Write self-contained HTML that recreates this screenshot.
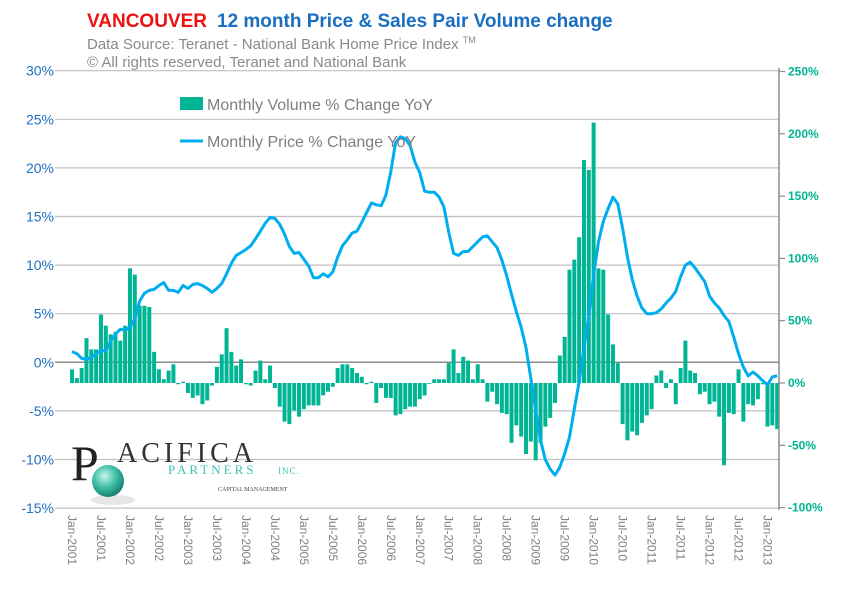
<!DOCTYPE html>
<html><head><meta charset="utf-8">
<style>
body{margin:0;background:#fff;width:850px;height:609px;overflow:hidden;font-family:"Liberation Sans",sans-serif;}
svg{display:block}
</style></head>
<body>
<svg id="chart" width="850" height="609" xmlns="http://www.w3.org/2000/svg" font-family="Liberation Sans, sans-serif">
<text x="87" y="27" font-size="19" font-weight="bold"><tspan fill="#ee1111">VANCOUVER</tspan><tspan fill="#1a6fc0" dx="10">12 month Price &amp; Sales Pair Volume change</tspan></text>
<text x="87" y="49" font-size="15" fill="#8a8a8a">Data Source: Teranet - National Bank Home Price Index <tspan font-size="9" dy="-6">TM</tspan></text>
<text x="87" y="67" font-size="15" fill="#8a8a8a">© All rights reserved, Teranet and National Bank</text>
<g id="grid"></g>
<g id="bars"></g>
<g id="line"></g>
<g id="axes"></g>
<g>
<rect x="180" y="97" width="23" height="13" fill="#00b594"/>
<text x="207" y="110" font-size="16" fill="#7f7f7f">Monthly Volume % Change YoY</text>
<line x1="180" y1="141" x2="203" y2="141" stroke="#00aeef" stroke-width="3"/>
<text x="207" y="147" font-size="16" fill="#7f7f7f">Monthly Price % Change YoY</text>
</g>
<g>
<defs><radialGradient id="ball" cx="0.4" cy="0.35" r="0.7"><stop offset="0" stop-color="#c9f5ea"/><stop offset="0.5" stop-color="#3fc0a8"/><stop offset="1" stop-color="#137766"/></radialGradient></defs>
<ellipse cx="113" cy="500" rx="22" ry="5" fill="#e6e6e6"/>
<circle cx="108" cy="481" r="16" fill="url(#ball)"/>
<text x="71" y="480" font-family="Liberation Serif, serif" font-size="50" fill="#222">P</text>
<text x="117" y="462" font-family="Liberation Serif, serif" font-size="28" fill="#333" letter-spacing="4">ACIFICA</text>
<text x="168" y="474" font-family="Liberation Serif, serif" font-size="13" fill="#3ec4b4" letter-spacing="3">PARTNERS</text>
<text x="278" y="474" font-family="Liberation Serif, serif" font-size="9" fill="#3ec4b4" letter-spacing="1">INC.</text>
<text x="218" y="491" font-family="Liberation Serif, serif" font-size="6" fill="#444">CAPITAL MANAGEMENT</text>
</g>
</svg>
<script>
const volume = [11,4,12,36,27,27,55,46,39,41,34,46,92,87,62,62,61,25,11,3,10,15,-1,1,-8,-12,-10,-17,-14,-2,13,23,44,25,14,19,-1,-2,10,18,3,14,-4,-19,-31,-33,-22,-27,-21,-18,
-18,-18,-10,-7,-3,12,15,15,12,8,5,-1,1,-16,-4,-12,-12,-26,-25,-21,-19,-19,-13,-10,0,3,3,3,16,27,8,21,18,3,15,3,-15,-7,-17,-24,-25,-48,-34,
-43,-57,-47,-62,-48,-35,-28,-16,22,37,91,99,117,179,171,209,92,91,55,31,16,-33,-46,-39,-42,-32,-26,-21,6,10,-4,3,-17,12,34,10,8,-9,-7,-17,-15,-27,-66,-24,-25,11,-31,-17,-18,-13,-1,-35,-34,-37];
const price = [1.1,0.9,0.4,0.3,0.5,0.9,1.2,1.2,2.2,2.9,3.4,3.3,3.6,4.5,6.3,7.1,7.4,7.5,7.9,8.2,7.4,7.4,7.2,7.9,7.6,8.0,8.1,7.9,7.6,7.2,7.6,8.1,9.1,10.2,
11.0,11.3,11.6,12.0,12.7,13.5,14.3,14.9,14.8,14.2,13.2,11.9,11.2,11.3,10.6,9.9,8.7,8.7,9.1,8.8,9.3,10.8,12.0,12.6,13.3,13.5,14.4,15.4,16.4,16.2,16.1,17.2,19.6,22.6,23.2,23.0,22.3,20.6,19.5,17.6,17.5,17.5,17.0,16.0,13.4,11.2,11.0,11.4,11.4,11.9,12.4,12.9,13.0,12.4,11.8,10.5,8.9,7.0,5.2,3.6,1.5,-1.7,-5.0,-8.0,-10.0,-11.0,-11.6,-10.8,-9.4,-7.7,-4.8,-2.0,1.5,4.8,9.0,12.4,14.5,15.8,17.0,16.3,13.8,10.8,8.5,6.8,5.6,5.0,5.0,5.1,5.5,6.1,6.6,7.3,8.8,10.0,10.3,9.7,9.0,8.3,6.8,6.1,5.6,4.8,4.2,2.6,0.9,-0.5,-1.4,-1.0,-1.4,-1.9,-2.3,-1.5,-1.4];
const leftTicks = [30,25,20,15,10,5,0,-5,-10,-15];
const rightTicks = [250,200,150,100,50,0,-50,-100];
const monthNames = ["Jan","Jul"];
const startYear = 2001;

const NS="http://www.w3.org/2000/svg";
const xOf = i => 72 + i*4.83;
const yL = v => 362.3 - v*9.72;
const yR = v => 383 - v*1.246;
function mk(tag, attrs, parent){const e=document.createElementNS(NS,tag);for(const k in attrs)e.setAttribute(k,attrs[k]);parent.appendChild(e);return e;}

const grid=document.getElementById('grid'), axes=document.getElementById('axes');
leftTicks.forEach(t=>{
  const l=mk('line',{x1:55,x2:779,y1:yL(t),y2:yL(t),stroke:t===0?'#8c8c8c':'#c0c0c0','stroke-width':t===0?1.5:1.2},grid);
  
  
  const tx=mk('text',{x:54,y:yL(t)+5,'text-anchor':'end','font-size':14,fill:'#1f6fc0'},axes);
  
  
  tx.textContent=t+'%';
});
const ax=mk('line',{x1:779,x2:779,y1:68,y2:510,stroke:'#8c8c8c','stroke-width':1.5},axes);


rightTicks.forEach(t=>{
  const tk=mk('line',{x1:779,x2:785,y1:yR(t),y2:yR(t),stroke:'#8c8c8c','stroke-width':1.2},axes);
  
  
  const tx=mk('text',{x:788,y:yR(t)+4,'font-size':12,'font-weight':'bold',fill:'#00b594'},axes);
  
  
  tx.textContent=t+'%';
});
const bars=document.getElementById('bars');
volume.forEach((v,i)=>{
  const y0=yR(0), y1=yR(v);
  const r=mk('rect',{x:xOf(i)-2,width:4,y:Math.min(y0,y1),height:Math.max(0.8,Math.abs(y1-y0)),fill:'#00b594'},bars);
  
  
});
const pts=price.map((v,i)=>xOf(i).toFixed(1)+','+yL(v).toFixed(1)).join(' ');
const pl=mk('polyline',{points:pts,fill:'none',stroke:'#00aeef','stroke-width':3,'stroke-linejoin':'round'},document.getElementById('line'));


for(let i=0;i<volume.length;i+=6){
  const label=monthNames[(i/6)%2]+'-'+(startYear+Math.floor(i/12));
  const x=xOf(i)-4;
  const tx=mk('text',{x:x,y:515,transform:'rotate(90 '+x+' 515)','font-size':12,fill:'#7f7f7f'},axes);
  
  
  tx.textContent=label;
}
</script>
</body></html>
